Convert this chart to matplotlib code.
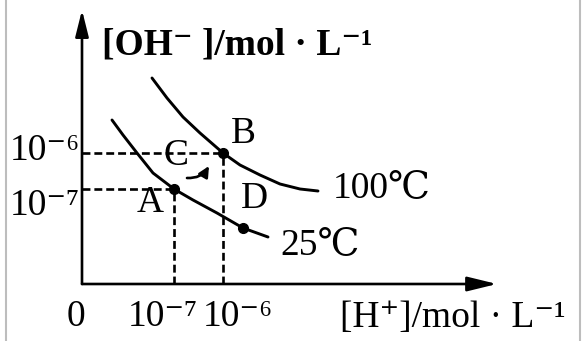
import matplotlib
matplotlib.use("Agg")
import matplotlib.pyplot as plt
from matplotlib.lines import Line2D
from matplotlib.patches import FancyArrowPatch

plt.rcParams['font.family'] = ['Liberation Serif', 'DejaVu Serif', 'Noto Sans CJK SC']

# Schematic ion-product curves (sketch units along each axis)
h_25 = [30, 41, 55, 71, 92, 111, 135, 161, 186]
oh_25 = [164, 149, 131, 111, 95, 84, 71, 56, 47]
h_100 = [70, 85, 101, 118, 141, 158, 178, 198, 218, 236]
oh_100 = [206, 186, 167, 151, 131, 119, 109, 100, 95, 93]

# Marked states
point_names = ['A', 'B', 'D']
point_h = [92, 141, 161]
point_oh = [95, 131, 56]

curve_labels = ['25℃', '100℃']
x_tick_labels = ['0', '10⁻⁷', '10⁻⁶']
y_tick_labels = ['10⁻⁷', '10⁻⁶']

FS = 27
LW = 1.9

fig = plt.figure(figsize=(5.82, 3.41), dpi=100)
ax = fig.add_axes([82 / 582, 57 / 341, 415 / 582, 274 / 341])
ax.set_xlim(0, 415)
ax.set_ylim(0, 274)
ax.axis('off')

# axes with arrowheads
ax.add_patch(FancyArrowPatch((0, 0), (415, 0),
                             arrowstyle='-|>,head_length=0.9,head_width=0.22',
                             lw=LW, color='black', mutation_scale=20,
                             shrinkA=0, shrinkB=0, clip_on=False))
ax.add_patch(FancyArrowPatch((0, 0), (0, 274),
                             arrowstyle='-|>,head_length=0.8,head_width=0.2',
                             lw=LW, color='black', mutation_scale=20,
                             shrinkA=0, shrinkB=0, clip_on=False))

# curves
ax.plot(h_25, oh_25, color='black', lw=2.1, solid_joinstyle='round',
        solid_capstyle='round', clip_on=False)
ax.plot(h_100, oh_100, color='black', lw=2.1, solid_joinstyle='round',
        solid_capstyle='round', clip_on=False)

# guide lines to A and B
dash = (0, (3, 1.5))
for i in (0, 1):
    ax.plot([0, point_h[i]], [point_oh[i], point_oh[i]], color='black',
            lw=LW, linestyle=dash)
    ax.plot([point_h[i], point_h[i]], [0, point_oh[i]], color='black',
            lw=LW, linestyle=dash)

# state markers
ax.plot(point_h, point_oh, 'o', color='black', markersize=7, clip_on=False)

# point letters
ax.text(68, 81, 'A', fontsize=FS, ha='center', va='center')
ax.text(161, 150, 'B', fontsize=FS, ha='center', va='center')
ax.text(94, 128, 'C', fontsize=FS, ha='center', va='center')
ax.text(172, 85, 'D', fontsize=FS, ha='center', va='center')

# C -> B arrow
ax.add_patch(FancyArrowPatch((105, 106), (127, 118),
                             arrowstyle='-|>,head_length=0.45,head_width=0.22',
                             lw=LW, color='black', mutation_scale=14,
                             connectionstyle='arc3,rad=0.3',
                             shrinkA=0, shrinkB=0))

# curve labels
ax.text(198, 39, curve_labels[0], fontsize=FS, ha='left', va='center')
ax.text(251, 96, curve_labels[1], fontsize=FS, ha='left', va='center')

# tick labels
ax.text(-6, -33, x_tick_labels[0], fontsize=FS, ha='center', va='center',
        clip_on=False)
ax.text(46, -33, x_tick_labels[1], fontsize=FS, ha='left', va='center',
        clip_on=False)
ax.text(121, -33, x_tick_labels[2], fontsize=FS, ha='left', va='center',
        clip_on=False)
ax.text(-72, 78, y_tick_labels[0], fontsize=FS, ha='left', va='center',
        clip_on=False)
ax.text(-72, 133, y_tick_labels[1], fontsize=FS, ha='left', va='center',
        clip_on=False)

# axis titles
ax.text(20, 239, '[OH⁻ ]/mol · L⁻¹', fontsize=FS,
        fontweight='bold', ha='left', va='center', clip_on=False)
ax.text(258, -34, '[H⁺]/mol · L⁻¹', fontsize=FS,
        ha='left', va='center', clip_on=False)

# page frame edges
fig.add_artist(Line2D([5.5 / 582, 5.5 / 582], [0, 1], color='#bdbdbd', lw=1.5))
fig.add_artist(Line2D([579.5 / 582, 579.5 / 582], [0, 1], color='#bdbdbd', lw=1.5))

fig.savefig('out.png', dpi=100, facecolor='white')
